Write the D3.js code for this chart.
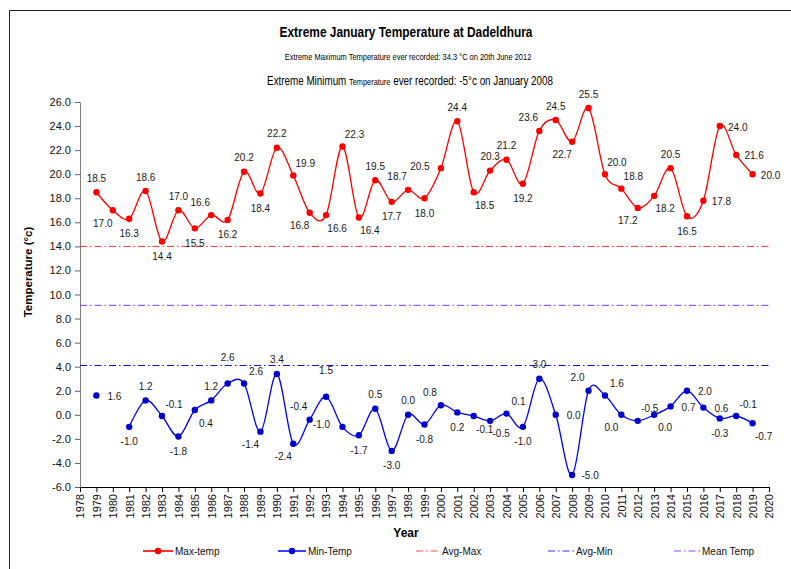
<!DOCTYPE html>
<meta charset="utf-8">
<style>
  body { margin: 0; background: #fff; }
  text { font-family: "Liberation Sans", Arial, sans-serif; }
</style>
<body>
<svg width="791" height="569"></svg>
<script src="https://d3js.org/d3.v7.min.js"></script>
<script>

// ---- data ----
var years = [1979, 1980, 1981, 1982, 1983, 1984, 1985, 1986, 1987, 1988,
             1989, 1990, 1991, 1992, 1993, 1994, 1995, 1996, 1997, 1998,
             1999, 2000, 2001, 2002, 2003, 2004, 2005, 2006, 2007, 2008,
             2009, 2010, 2011, 2012, 2013, 2014, 2015, 2016, 2017, 2018, 2019];

var maxTemp = [18.5, 17.0, 16.3, 18.6, 14.4, 17.0, 15.5, 16.6, 16.2, 20.2,
               18.4, 22.2, 19.9, 16.8, 16.6, 22.3, 16.4, 19.5, 17.7, 18.7,
               18.0, 20.5, 24.4, 18.5, 20.3, 21.2, 19.2, 23.6, 24.5, 22.7,
               25.5, 20.0, 18.8, 17.2, 18.2, 20.5, 16.5, 17.8, 24.0, 21.6, 20.0];

var minTemp = [1.6, null, -1.0, 1.2, -0.1, -1.8, 0.4, 1.2, 2.6, 2.6,
               -1.4, 3.4, -2.4, -0.4, 1.5, -1.0, -1.7, 0.5, -3.0, 0.0,
               -0.8, 0.8, 0.2, -0.1, -0.5, 0.1, -1.0, 3.0, 0.0, -5.0,
               2.0, 1.6, 0.0, -0.5, 0.0, 0.7, 2.0, 0.6, -0.3, -0.1, -0.7];

var avgMax = 14.0;
var meanTemp = 9.1;
var avgMin = 4.1;

var xTicks = d3.range(1978, 2021);
var yTicks = [-6, -4, -2, 0, 2, 4, 6, 8, 10, 12, 14, 16, 18, 20, 22, 24, 26];

// where excel put each data label (compass side of the point)
var maxLabelSide = ["n","sw","s","n","s","n","s","nw","s","n",
                    "s","n","ne","sw","se","ne","se","n","s","nw",
                    "s","w","n","se","n","n","s","nw","n","sw",
                    "n","ne","ne","sw","se","n","s","e","e","e","e"];
var minLabelSide = ["e",null,"s","n","ne","s","se","n","nn","ne",
                    "sw","n","sw","nw","nn","w","s","n","s","n",
                    "s","nw","s","se","se","ne","s","n","e","e",
                    "nw","ne","sw","ne","se","e","e","e","s","ne","se"];

var sideOffset = {
  n: [0, -14], nn: [0, -26], s: [0, 15], e: [18, 1], w: [-21, -2],
  ne: [12, -12], nw: [-11, -13], se: [11, 13], sw: [-10, 13]
};

var svg = d3.select("svg");

// outer frame (only top and left edges are visible)
svg.append("path")
    .attr("d", "M9.5,569V10.5H791")
    .attr("fill", "none")
    .attr("stroke", "#222")
    .attr("stroke-width", 1);

var x = d3.scaleLinear().domain([1978, 2020]).range([80, 769]);
var y = d3.scaleLinear().domain([-6, 26]).range([487, 102]);

// titles: the original text is squeezed sideways, so measure and scale in x
function squeezed(cx, baseline, width) {
  var g = svg.append("g");
  var t = g.append("text").attr("text-anchor", "middle");
  return {g: g, t: t, fit: function() {
    var w = t.node().getComputedTextLength();
    g.attr("transform", "translate(" + cx + "," + baseline + ") scale(" + (width / w) + ",1)");
  }};
}

var t1 = squeezed(406, 37, 253);
t1.t.attr("font-size", 14).attr("font-weight", "bold")
    .text("Extreme January  Temperature at Dadeldhura");
t1.fit();

var t2 = squeezed(408, 60, 247);
t2.t.attr("font-size", 9)
    .text("Extreme Maximum Temperature ever recorded: 34.3 °C on 20th June 2012");
t2.fit();

var t3 = squeezed(410, 85, 286);
t3.t.attr("font-size", 12);
t3.t.append("tspan").text("Extreme Minimum ");
t3.t.append("tspan").attr("font-size", 9).text("Temperature");
t3.t.append("tspan").text(" ever recorded: -5°c on January 2008");
t3.fit();

// axes
var xAxis = svg.append("g")
    .attr("transform", "translate(0," + y(-6) + ")")
    .call(d3.axisBottom(x).tickValues(xTicks).tickFormat(d3.format("d"))
      .tickSize(5).tickSizeOuter(0));
xAxis.attr("font-family", null);
xAxis.select(".domain").attr("stroke", "#000");
xAxis.selectAll("line").attr("stroke", "#000");
xAxis.selectAll("text")
    .attr("transform", "rotate(-90)")
    .attr("text-anchor", "end")
    .attr("x", -7).attr("y", 0).attr("dy", "0.35em")
    .attr("font-size", 11)
    .attr("fill", "#111");

var yAxis = svg.append("g")
    .attr("transform", "translate(" + x(1978) + ",0)")
    .call(d3.axisLeft(y).tickValues(yTicks).tickFormat(function(d) { return d.toFixed(1); })
      .tickSize(5).tickSizeOuter(0));
yAxis.attr("font-family", null);
yAxis.select(".domain").attr("stroke", "#808080");
yAxis.selectAll("line").attr("stroke", "#606060");
yAxis.selectAll("text")
    .attr("x", -9)
    .attr("font-size", 11)
    .attr("fill", "#111");

svg.append("text")
    .attr("transform", "translate(32,272) rotate(-90)")
    .attr("text-anchor", "middle")
    .attr("font-size", 11.5).attr("font-weight", "bold")
    .text("Temperature (°c)");

svg.append("text")
    .attr("x", 406).attr("y", 537)
    .attr("text-anchor", "middle")
    .attr("font-size", 12).attr("font-weight", "bold")
    .text("Year");

// reference lines
var dashDot = "7,3,1.5,3";
var refs = [
  {v: avgMax, color: "#ff3030"},
  {v: meanTemp, color: "#7a3cff"},
  {v: avgMin, color: "#1010e0"}
];
svg.selectAll(".ref").data(refs).enter().append("line")
    .attr("class", "ref")
    .attr("x1", x(1978)).attr("x2", x(2020))
    .attr("y1", function(d) { return y(d.v); })
    .attr("y2", function(d) { return y(d.v); })
    .attr("stroke", function(d) { return d.color; })
    .attr("stroke-width", 1)
    .attr("stroke-dasharray", dashDot);

// series
function series(vals, sides) {
  return years.map(function(yr, i) { return {year: yr, v: vals[i], side: sides[i]}; });
}
var maxData = series(maxTemp, maxLabelSide);
var minData = series(minTemp, minLabelSide);

var line = d3.line()
    .defined(function(d) { return d.v != null; })
    .x(function(d) { return x(d.year); })
    .y(function(d) { return y(d.v); })
    .curve(d3.curveCardinal.tension(0));

function drawSeries(data, lineColor, markColor) {
  svg.append("path")
      .datum(data)
      .attr("fill", "none")
      .attr("stroke", lineColor)
      .attr("stroke-width", 1.3)
      .attr("d", line);

  var pts = data.filter(function(d) { return d.v != null; });

  svg.append("g").selectAll("circle").data(pts).enter().append("circle")
      .attr("cx", function(d) { return x(d.year); })
      .attr("cy", function(d) { return y(d.v); })
      .attr("r", 3.2)
      .attr("fill", markColor);

  svg.append("g").selectAll("text").data(pts).enter().append("text")
      .attr("x", function(d) { return x(d.year) + sideOffset[d.side][0]; })
      .attr("y", function(d) { return y(d.v) + sideOffset[d.side][1]; })
      .attr("dy", "0.35em")
      .attr("text-anchor", "middle")
      .attr("font-size", 10)
      .attr("fill", "#1a1a1a")
      .text(function(d) { return d.v.toFixed(1); });
}

drawSeries(maxData, "#ff0000", "#ff0000");
drawSeries(minData, "#0000ff", "#0000cc");

// legend
var legendItems = [
  {name: "Max-temp", x0: 143, x1: 173, color: "#ff3030", mark: "#ff0000", dash: null},
  {name: "Min-Temp", x0: 278, x1: 306, color: "#4040ff", mark: "#0000cc", dash: null},
  {name: "Avg-Max", x0: 416, x1: 440, color: "#ff5050", mark: null, dash: dashDot},
  {name: "Avg-Min", x0: 548, x1: 574, color: "#3030ff", mark: null, dash: dashDot},
  {name: "Mean Temp", x0: 674, x1: 700, color: "#9050ff", mark: null, dash: dashDot}
];
var ly = 551;
var leg = svg.append("g").selectAll("g").data(legendItems).enter().append("g");
leg.append("line")
    .attr("x1", function(d) { return d.x0; })
    .attr("x2", function(d) { return d.x1; })
    .attr("y1", ly).attr("y2", ly)
    .attr("stroke", function(d) { return d.color; })
    .attr("stroke-width", function(d) { return d.dash ? 1 : 2; })
    .attr("stroke-dasharray", function(d) { return d.dash; });
leg.filter(function(d) { return d.mark; }).append("circle")
    .attr("cx", function(d) { return (d.x0 + d.x1) / 2; })
    .attr("cy", ly)
    .attr("r", 3.2)
    .attr("fill", function(d) { return d.mark; });
leg.append("text")
    .attr("x", function(d) { return d.x1 + 2; })
    .attr("y", ly)
    .attr("dy", "0.35em")
    .attr("font-size", 10)
    .attr("fill", "#111")
    .text(function(d) { return d.name; });

</script>
</body>
